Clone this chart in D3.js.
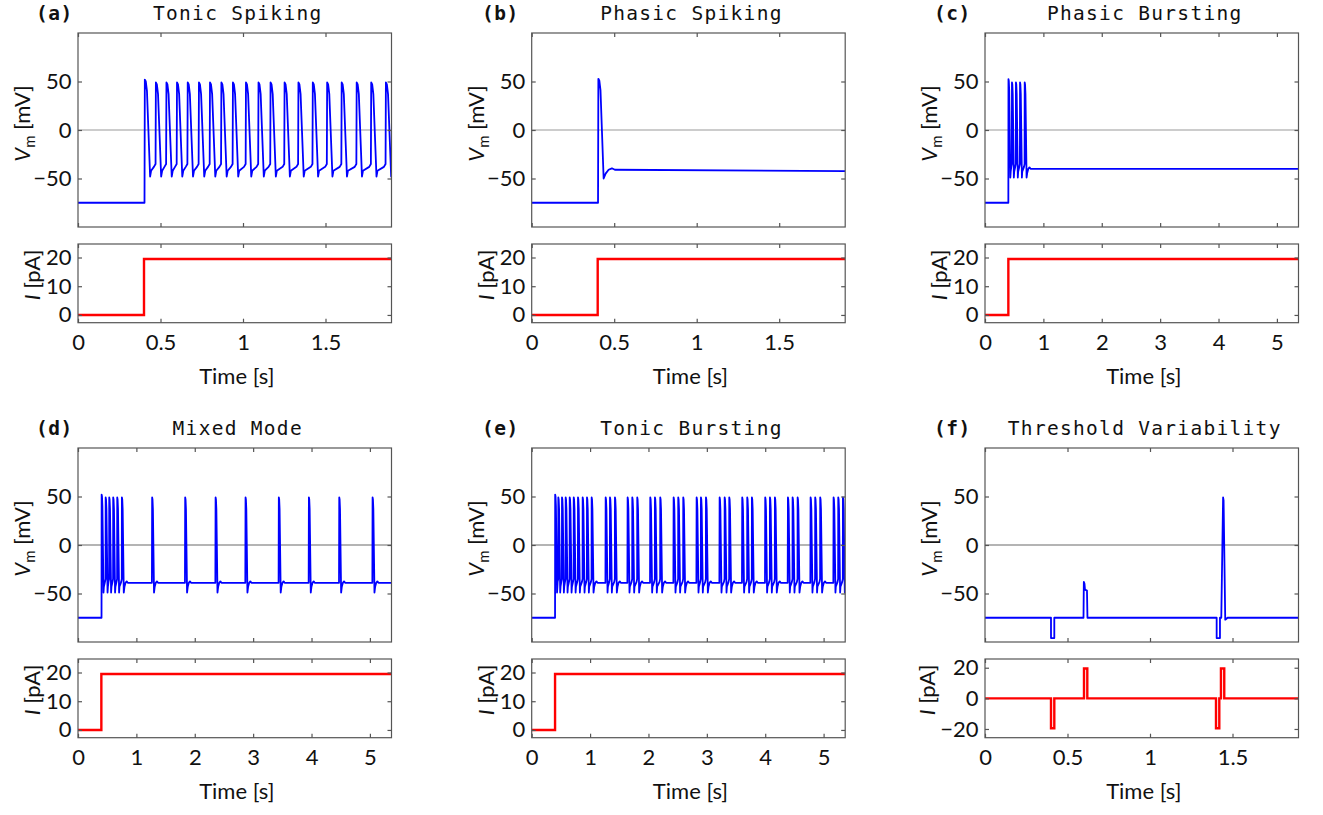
<!DOCTYPE html>
<html lang="en">
<head>
<meta charset="UTF-8">
<title>Neuron firing patterns</title>
<script src="https://d3js.org/d3.v7.min.js"></script>
<style>
body,html{
	margin: 0;
	padding: 0;
	background: #fff;
}
.frame{
	fill: none;
	stroke: #555;
	stroke-width: 1.2px;
}
.vm{
	fill: none;
	stroke: #0000ff;
	stroke-width: 1.8px;
	stroke-linejoin: round;
}
.cur{
	fill: none;
	stroke: #ff0000;
	stroke-width: 2.4px;
}
.axis-label{
	font-family: Lato, "Open Sans", sans-serif;
	font-size: 22px;
	fill: #111;
}
.title, .panel-id{
	font-family: "DejaVu Sans Mono", monospace;
	font-size: 19.5px;
	letter-spacing: 1.3px;
	fill: #111;
}
.panel-id{
	font-weight: bold;
	letter-spacing: 0.5px;
}
</style>
</head>
<body>
<script>
// ---- data ----
var panelIds = ["(a)", "(b)", "(c)", "(d)", "(e)", "(f)"];
var panelTitles = ["Tonic Spiking", "Phasic Spiking", "Phasic Bursting", "Mixed Mode", "Tonic Bursting", "Threshold Variability"];
var timeMax = [1.9, 1.9, 5.37, 5.37, 5.37, 1.9];
var shortTimeTicks = [0, 0.5, 1, 1.5];
var longTimeTicks = [0, 1, 2, 3, 4, 5];
var vmTicks = [-50, 0, 50];
var stepCurrentTicks = [0, 10, 20];
var pulseCurrentTicks = [-20, 0, 20];

var restV = -75;      // mV
var stepTime = 0.4;   // s
var stepAmp = 19.5;   // pA

// spike peak times (s)
var tonicSpikes = [0.405, 0.472, 0.536, 0.600, 0.665, 0.733, 0.800, 0.869, 0.939, 1.018, 1.094,
	1.167, 1.252, 1.336, 1.423, 1.510, 1.598, 1.689, 1.777, 1.866];
var phasicSpikes = [0.404];
var phasicBurstSpikes = [0.402, 0.462, 0.530, 0.600, 0.680];
var mixedSpikes = [0.405, 0.474, 0.535, 0.603, 0.672, 0.752, 1.270, 1.836, 2.357, 2.870, 3.440, 3.955, 4.475, 5.046];
var tonicBurstSpikes = [0.402, 0.456, 0.519, 0.582, 0.651, 0.720, 0.793, 0.873, 0.947, 1.027,
	1.267, 1.341, 1.426, 1.643, 1.723, 1.808, 2.031, 2.111, 2.202, 2.431, 2.510, 2.596,
	2.825, 2.899, 2.985, 3.219, 3.305, 3.384, 3.606, 3.692, 3.772, 4.000, 4.081, 4.166,
	4.389, 4.469, 4.555, 4.777, 4.856, 4.942, 5.171, 5.251, 5.331];

// voltage levels (mV) for panels a-e
var firstPeakV = [52, 52.8, 52.5, 52, 52];
var peakV = [49, 49, 49, 49, 49];
var troughV = [-48, -50, -49, -49, -49];
var plateauV = [-40, -41, -40, -39, -39];
var plateauEndV = [-40, -42.4, -40, -39, -39];

// panel f: voltage trace [t (s), V (mV)] and current pulses [start, end, pA]
var thresholdTrace = [[0, -75], [0.400, -75], [0.400, -96], [0.420, -96], [0.420, -75], [0.597, -75],
	[0.599, -38], [0.603, -40], [0.606, -46], [0.618, -47], [0.621, -75], [1.404, -75], [1.404, -96],
	[1.424, -96], [1.424, -75], [1.432, -75], [1.443, 49], [1.446, 46], [1.456, -77], [1.470, -75], [1.9, -75]];
var thresholdPulses = [[0.40, 0.42, -19.5], [0.60, 0.62, 19.5], [1.40, 1.42, -19.5], [1.43, 1.45, 19.5]];

var spikeSets = [tonicSpikes, phasicSpikes, phasicBurstSpikes, mixedSpikes, tonicBurstSpikes];

// ---- layout ----
var colLeft = [78, 531.7, 985];
var rowTop = [33, 448];
var plotWidth = 313.5;
var vmHeight = 194;
var curOffset = 211;
var curHeight = 78.7;
var labelX = [36, 482, 934];
var zeroColor = ["#9a9a9a", "#6a6a6a"];

var fmt = d3.format("~g");

var svg = d3.select("body").append("svg")
	.attr("width", 1323)
	.attr("height", 815);
var defs = svg.append("defs");

// build a membrane trace from spike times
function buildTrace(spikes, k, tEnd){
	var pts = [[0, restV], [spikes[0] - 0.002, restV]];
	spikes.forEach(function(t, i){
		var pk = i === 0 ? firstPeakV[k] : peakV[k];
		pts.push([t, pk]);
		pts.push([t + 0.006, pk - 2]);
		pts.push([t + 0.013, pk - 12]);
		pts.push([t + 0.032, troughV[k]]);
		var tn = i + 1 < spikes.length ? spikes[i + 1] : tEnd;
		if(tn - t < 0.15){
			pts.push([t + 0.038, troughV[k] + 6]);
			if(tn - 0.012 > t + 0.038) pts.push([tn - 0.012, -38]);
			pts.push([tn - 0.002, -35]);
		} else {
			pts.push([t + 0.044, plateauV[k] - 4]);
			pts.push([t + 0.062, plateauV[k]]);
			pts.push([t + 0.082, plateauV[k] + 1.5]);
			pts.push([t + 0.10, plateauV[k]]);
			if(i + 1 < spikes.length){
				pts.push([tn - 0.004, plateauV[k]]);
			} else {
				pts.push([tEnd, plateauEndV[k]]);
			}
		}
	});
	return pts;
}

function drawAxes(g, x, y, xTicks, yTicks, showX){
	var xr = x.range(), yr = y.range();
	var bottom = g.append("g").attr("transform", "translate(0," + yr[0] + ")")
		.call(d3.axisBottom(x).tickValues(xTicks).tickSize(-4).tickPadding(11.5)
			.tickFormat(showX ? fmt : ""));
	var top = g.append("g").attr("transform", "translate(0," + yr[1] + ")")
		.call(d3.axisTop(x).tickValues(xTicks).tickSize(-4).tickFormat(""));
	var left = g.append("g").attr("transform", "translate(" + xr[0] + ",0)")
		.call(d3.axisLeft(y).tickValues(yTicks).tickSize(-4).tickPadding(6.5).tickFormat(fmt));
	var right = g.append("g").attr("transform", "translate(" + xr[1] + ",0)")
		.call(d3.axisRight(y).tickValues(yTicks).tickSize(-4).tickFormat(""));
	[bottom, top, left, right].forEach(function(a){
		a.select(".domain").remove();
		a.attr("font-family", "Lato, 'Open Sans', sans-serif")
			.attr("font-size", 22)
			.attr("color", "#555");
		a.selectAll("line").attr("stroke-width", 1.2);
		a.selectAll("text").attr("fill", "#111");
	});
	g.append("rect").attr("class", "frame")
		.attr("x", xr[0]).attr("y", yr[1])
		.attr("width", xr[1] - xr[0]).attr("height", yr[0] - yr[1]);
}

var line = d3.line();

panelTitles.forEach(function(title, k){
	var row = Math.floor(k / 3), col = k % 3;
	var left = colLeft[col], top = rowTop[row];
	var g = svg.append("g");

	var x = d3.scaleLinear().domain([0, timeMax[k]]).range([left, left + plotWidth]);
	var yV = d3.scaleLinear().domain([-100, 100]).range([top + vmHeight, top]);
	var cTop = top + curOffset;
	var isPulse = k === 5;
	var yI = d3.scaleLinear().domain(isPulse ? [-25.7, 25.7] : [-2.7, 24.7])
		.range([cTop + curHeight, cTop]);
	var xTicks = timeMax[k] < 3 ? shortTimeTicks : longTimeTicks;

	// titles
	g.append("text").attr("class", "panel-id")
		.attr("x", labelX[col]).attr("y", top - 13.5)
		.text(panelIds[k]);
	g.append("text").attr("class", "title")
		.attr("x", left + plotWidth / 2 + 3).attr("y", top - 13.5)
		.style("text-anchor", "middle")
		.text(title);

	// voltage panel
	defs.append("clipPath").attr("id", "clipV" + k)
		.append("rect").attr("x", left).attr("y", top)
		.attr("width", plotWidth).attr("height", vmHeight);
	g.append("line")
		.attr("x1", left).attr("x2", left + plotWidth)
		.attr("y1", yV(0)).attr("y2", yV(0))
		.attr("stroke", zeroColor[row]).attr("stroke-width", 1.2);

	var trace = isPulse ? thresholdTrace : buildTrace(spikeSets[k], k, timeMax[k]);
	line.x(function(d){ return x(d[0]); }).y(function(d){ return yV(d[1]); });
	g.append("path").attr("class", "vm")
		.attr("clip-path", "url(#clipV" + k + ")")
		.attr("d", line(trace));
	drawAxes(g, x, yV, xTicks, vmTicks, false);

	// current panel
	var cur;
	if(isPulse){
		cur = [[0, 0]];
		thresholdPulses.forEach(function(p){
			cur.push([p[0], 0], [p[0], p[2]], [p[1], p[2]], [p[1], 0]);
		});
		cur.push([timeMax[k], 0]);
	} else {
		cur = [[0, 0], [stepTime, 0], [stepTime, stepAmp], [timeMax[k], stepAmp]];
	}
	defs.append("clipPath").attr("id", "clipI" + k)
		.append("rect").attr("x", left).attr("y", cTop)
		.attr("width", plotWidth).attr("height", curHeight);
	line.x(function(d){ return x(d[0]); }).y(function(d){ return yI(d[1]); });
	g.append("path").attr("class", "cur")
		.attr("clip-path", "url(#clipI" + k + ")")
		.attr("d", line(cur));
	drawAxes(g, x, yI, xTicks, isPulse ? pulseCurrentTicks : stepCurrentTicks, true);

	// axis labels
	var vLab = g.append("text").attr("class", "axis-label")
		.attr("transform", "translate(" + (left - 48) + "," + (top + vmHeight / 2 - 6.5) + ") rotate(-90)")
		.style("text-anchor", "middle");
	vLab.append("tspan").style("font-style", "italic").text("V");
	vLab.append("tspan").attr("font-size", 15).attr("dy", 5).text("m");
	vLab.append("tspan").attr("dy", -5).text(" [mV]");

	var iLab = g.append("text").attr("class", "axis-label")
		.attr("transform", "translate(" + (left - (isPulse ? 50 : 38)) + "," + (cTop + curHeight / 2 - 8.5) + ") rotate(-90)")
		.style("text-anchor", "middle");
	iLab.append("tspan").style("font-style", "italic").text("I");
	iLab.append("tspan").text(" [pA]");

	g.append("text").attr("class", "axis-label")
		.attr("x", left + plotWidth / 2 + 2).attr("y", cTop + curHeight + 61)
		.style("text-anchor", "middle")
		.text("Time [s]");
});
</script>
</body>
</html>
